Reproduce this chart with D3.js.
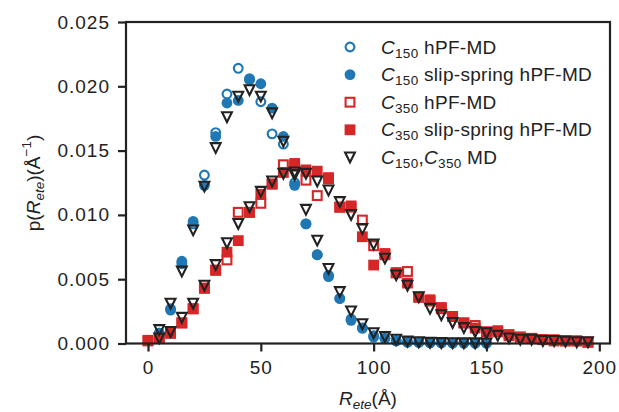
<!DOCTYPE html>
<html>
<head>
<meta charset="utf-8">
<script src="https://cdn.jsdelivr.net/npm/d3@7"></script>
<style>
  body { margin: 0; background: #fff; }
  svg text { font-family: "Liberation Sans", Arial, sans-serif; fill: #222; }
</style>
</head>
<body>
<svg id="chart" width="619" height="412"></svg>
<script>
// bin centres (Å)
let rValues = [0, 5, 10, 15, 20, 25, 30, 35, 40, 45, 50, 55, 60, 65, 70, 75, 80, 85, 90, 95,
  100, 105, 110, 115, 120, 125, 130, 135, 140, 145, 150, 155, 160, 165, 170, 175, 180, 185, 190, 195];

let c150Hpf = [null, 0.0008, 0.0027, 0.0062, 0.0093, 0.0131, 0.0164, 0.0194, 0.0214, 0.0205,
  0.0188, 0.0163, 0.0155, 0.0125, 0.0093, 0.0069, 0.0053, 0.0035, 0.0019, 0.0012,
  0.0006, 0.0004, 0.0002, 0.0001, 0.0001, 0.00005, 0.00004, 0.00003, 0.00003, 0.00002,
  0.00002, null, null, null, null, null, null, null, null, null];

let c150Slip = [null, 0.0008, 0.0026, 0.0064, 0.0095, 0.0123, 0.0161, 0.0187, 0.0189, 0.0206,
  0.0202, 0.0183, 0.0161, 0.0123, 0.0093, 0.0069, 0.0052, 0.0035, 0.0018, 0.0012,
  0.0005, 0.0004, 0.0002, 0.0001, 0.00008, 0.00006, 0.00005, 0.00004, 0.00003, 0.00002,
  0.00002, null, null, null, null, null, null, null, null, null];

let c350Hpf = [0.0002, 0.0004, 0.0008, 0.0016, 0.0027, 0.0043, 0.0057, 0.0065, 0.0102, 0.0102,
  0.0109, 0.0124, 0.0139, 0.0138, 0.0127, 0.0115, 0.0128, 0.0106, 0.0106, 0.0096,
  0.0076, 0.0069, 0.0055, 0.0056, 0.0036, 0.0033, 0.0027, 0.0021, 0.0016, 0.0014,
  0.0009, 0.0009, 0.0006, 0.0005, 0.0004, 0.0003, 0.0002, 0.0002, 0.0002, 0.0001];

let c350Slip = [0.00025, 0.0004, 0.0008, 0.0016, 0.0027, 0.0043, 0.0057, 0.0071, 0.0080, 0.0102,
  0.0116, 0.0124, 0.0133, 0.0140, 0.0135, 0.0134, 0.0129, 0.0106, 0.0107, 0.0083,
  0.0061, 0.0070, 0.0055, 0.0047, 0.0036, 0.0034, 0.0028, 0.0021, 0.0016, 0.0012,
  0.0009, 0.0010, 0.0007, 0.0005, 0.0004, 0.0003, 0.0003, 0.0002, 0.0002, 0.0001];

let c150Md = [null, 0.00105, 0.0031, 0.0056, 0.0088, 0.0122, 0.0152, 0.0176, 0.0192, 0.0197,
  0.0192, 0.0179, 0.0157, 0.0131, 0.0104, 0.0080, 0.0058, 0.0040, 0.0025, 0.0015,
  0.0008, 0.0005, 0.0003, 0.00015, 0.0001, 0.00006, 0.00004, 0.00003, 0.00002, 0.00002,
  0.00001, null, null, null, null, null, null, null, null, null];

let c350Md = [null, 0.0004, 0.0009, 0.0020, 0.0031, 0.0045, 0.0061, 0.0078, 0.0093, 0.0106,
  0.0118, 0.0126, 0.0132, 0.0133, 0.0132, 0.0126, 0.0119, 0.0110, 0.0100, 0.0089,
  0.0077, 0.0066, 0.0053, 0.0045, 0.0036, 0.0027, 0.0022, 0.0016, 0.0012, 0.0009,
  0.0008, 0.0006, 0.0004, 0.0003, 0.0003, 0.0002, 0.0002, 0.00015, 0.0001, 0.0001];

let xTicks = [0, 50, 100, 150, 200];
let yTicks = [0, 0.005, 0.01, 0.015, 0.02, 0.025];

let blue = "#1f77b4";
let red = "#d62728";
let dark = "#222";
let fontSize = 19;
let subSize = 13.5;

let svg = d3.select("#chart");

let plotLeft = 126, plotRight = 610, plotTop = 22, plotBottom = 343.5;

let x = d3.scaleLinear().domain([-9.75, 204.75]).range([plotLeft, plotRight]);
let y = d3.scaleLinear().domain([0, 0.025]).range([plotBottom, plotTop]);

let pairs = (vals) => rValues.map((r, i) => [r, vals[i]]).filter((d) => d[1] !== null);

// series in matplotlib draw order
let series = [
  { vals: c150Hpf, shape: "circle", fill: "none", stroke: blue },
  { vals: c150Slip, shape: "circle", fill: blue, stroke: blue },
  { vals: c350Hpf, shape: "square", fill: "none", stroke: red },
  { vals: c350Slip, shape: "square", fill: red, stroke: red },
  { vals: c150Md, shape: "tri", fill: "none", stroke: dark },
  { vals: c350Md, shape: "tri", fill: "none", stroke: dark }
];

let drawMarker = (g, shape, fill, stroke) => {
  if (shape === "circle") {
    g.append("circle").attr("r", fill === "none" ? 4.4 : 5.4)
      .attr("fill", fill).attr("stroke", stroke).attr("stroke-width", fill === "none" ? 2.1 : 0);
  } else if (shape === "square") {
    let s = fill === "none" ? 8.8 : 10.8;
    g.append("rect").attr("x", -s / 2).attr("y", -s / 2).attr("width", s).attr("height", s)
      .attr("fill", fill).attr("stroke", stroke).attr("stroke-width", fill === "none" ? 2.1 : 0);
  } else {
    g.append("path").attr("d", "M-4.9,-4.9 L4.9,-4.9 L0,4.9 Z")
      .attr("fill", fill).attr("stroke", stroke).attr("stroke-width", 2.1)
      .attr("stroke-linejoin", "miter");
  }
};

let plot = svg.append("g");
series.forEach((s) => {
  plot.selectAll(null)
    .data(pairs(s.vals))
    .enter()
    .append("g")
    .attr("transform", (d) => "translate(" + x(d[0]) + "," + y(d[1]) + ")")
    .each(function () { drawMarker(d3.select(this), s.shape, s.fill, s.stroke); });
});

// axes
let xAxis = svg.append("g").attr("transform", "translate(0," + plotBottom + ")")
  .call(d3.axisBottom(x).tickValues(xTicks).tickSize(8).tickPadding(9).tickFormat(d3.format("d")));
let yAxis = svg.append("g").attr("transform", "translate(" + plotLeft + ",0)")
  .call(d3.axisLeft(y).tickValues(yTicks).tickSize(8).tickPadding(8).tickFormat(d3.format(".3f")));

[xAxis, yAxis].forEach((a) => {
  a.select(".domain").remove();
  a.selectAll(".tick line").attr("stroke", dark).attr("stroke-width", 2.2);
  a.selectAll(".tick text").attr("font-size", fontSize).attr("fill", dark)
    .attr("letter-spacing", 1)
    .style("font-family", "'Liberation Sans', Arial, sans-serif");
});

svg.append("rect")
  .attr("x", plotLeft).attr("y", plotTop)
  .attr("width", plotRight - plotLeft).attr("height", plotBottom - plotTop)
  .attr("fill", "none").attr("stroke", dark).attr("stroke-width", 2.2);

// axis labels
let xl = svg.append("text").attr("x", (plotLeft + plotRight) / 2).attr("y", 405)
  .attr("text-anchor", "middle").attr("font-size", fontSize);
xl.append("tspan").attr("font-style", "italic").text("R");
xl.append("tspan").attr("font-style", "italic").attr("font-size", subSize).attr("dy", 4).text("ete");
xl.append("tspan").attr("dy", -4).text("(Å)");

let yl = svg.append("text").attr("transform", "translate(40,183) rotate(-90)")
  .attr("text-anchor", "middle").attr("font-size", fontSize);
yl.append("tspan").text("p(");
yl.append("tspan").attr("font-style", "italic").text("R");
yl.append("tspan").attr("font-style", "italic").attr("font-size", subSize).attr("dy", 4).text("ete");
yl.append("tspan").attr("dy", -4).text(")(Å");
yl.append("tspan").attr("font-size", subSize).attr("dy", -9).text("−1");
yl.append("tspan").attr("dy", 9).text(")");

// legend
let legendItems = [
  { sub: [["C", "150"]], rest: " hPF-MD", shape: "circle", fill: "none", stroke: blue },
  { sub: [["C", "150"]], rest: " slip-spring hPF-MD", shape: "circle", fill: blue, stroke: blue },
  { sub: [["C", "350"]], rest: " hPF-MD", shape: "square", fill: "none", stroke: red },
  { sub: [["C", "350"]], rest: " slip-spring hPF-MD", shape: "square", fill: red, stroke: red },
  { sub: [["C", "150"], ["C", "350"]], rest: " MD", shape: "tri", fill: "none", stroke: dark }
];

let legend = svg.append("g");
legendItems.forEach((item, i) => {
  let cy = 47 + i * 27.6;
  drawMarker(legend.append("g").attr("transform", "translate(350," + cy + ")"), item.shape, item.fill, item.stroke);
  let t = legend.append("text").attr("x", 381).attr("y", cy + 6.5).attr("font-size", fontSize)
    .attr("letter-spacing", 0.3);
  item.sub.forEach((p, k) => {
    if (k > 0) t.append("tspan").attr("dy", -4).text(",");
    t.append("tspan").attr("font-style", "italic").text(p[0]);
    t.append("tspan").attr("font-size", subSize).attr("dy", 4).text(p[1]);
  });
  t.append("tspan").attr("dy", -4).text(item.rest);
});
</script>
</body>
</html>
